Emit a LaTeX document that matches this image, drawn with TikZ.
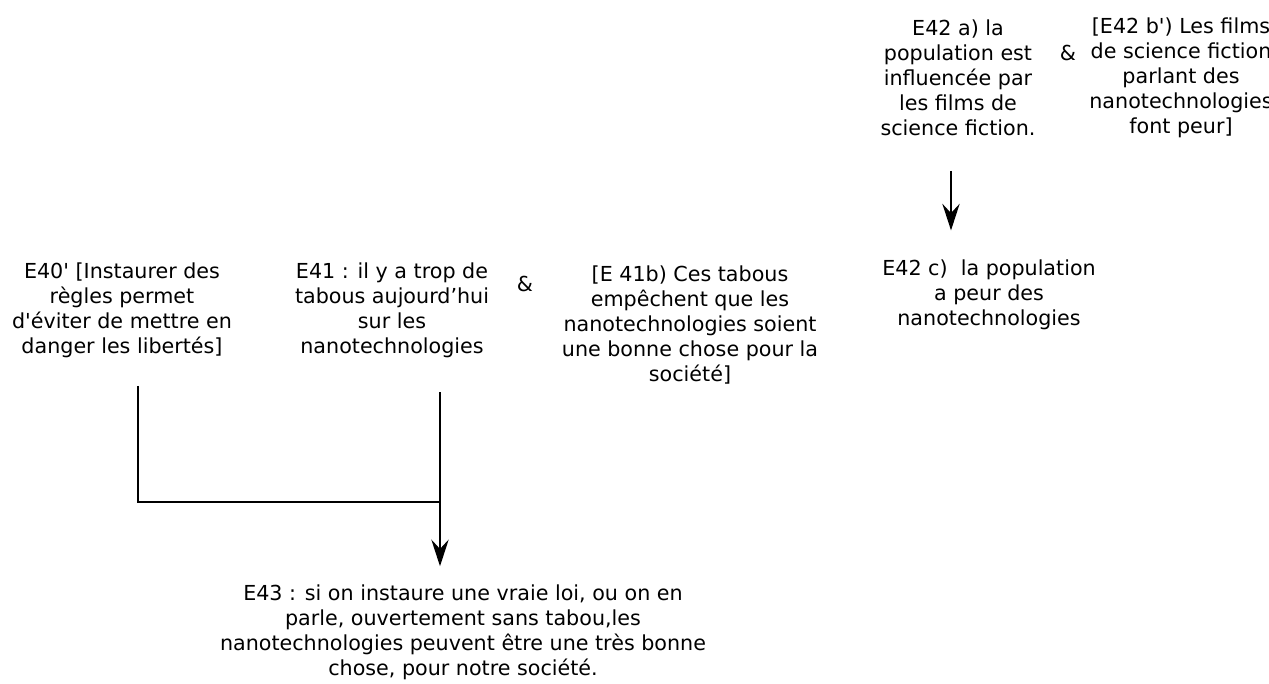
\documentclass[tikz,border=0pt]{standalone}
\usepackage{fontspec}
\setmainfont{DejaVu Sans}[Ligatures=TeXOff]
\usetikzlibrary{arrows.meta,positioning}

\begin{document}
\begin{tikzpicture}[x=0.75pt,y=-0.75pt,
  stmt/.style={align=center,inner sep=0pt,font=\fontsize{15.5}{18.75}\selectfont},
  amp/.style={inner sep=0pt,font=\fontsize{15.5}{18.75}\selectfont},
  link/.style={line width=1pt},
  arr/.style={link,-{Stealth[length=20pt,width=13pt,inset=7pt]}}]
  \useasboundingbox (0,0) rectangle (1269,684);
  \node[stmt] (e42a) at (958,78) {E42 a) la\\population est\\influencée par\\les films de\\science fiction.};
  \node[amp] (and42) at (1068,53) {\&};
  \node[stmt] (e42b) at (1181,78) {[E42 b') Les films\\de science fiction\\parlant des\\nanotechnologies\\font peur]};
  \node[stmt] (e42c) at (989,295) {E42 c)\ \ la population\\a peur des\\nanotechnologies};
  \node[stmt] (e40) at (122,310) {E40' [Instaurer des\\règles permet\\d'éviter de mettre en\\danger les libertés]};
  \node[stmt] (e41) at (392,310) {E41 : il y a trop de\\tabous aujourd’hui\\sur les\\nanotechnologies};
  \node[amp] (and41) at (525,284) {\&};
  \node[stmt] (e41b) at (690,325) {[E 41b) Ces tabous\\empêchent que les\\nanotechnologies soient\\une bonne chose pour la\\société]};
  \node[stmt] (e43) at (463,632) {E43 : si on instaure une vraie loi, ou on en\\parle, ouvertement sans tabou,les\\nanotechnologies peuvent être une très bonne\\chose, pour notre société.};
  \coordinate (join) at (440,502);
  \coordinate (a42) at ([xshift=-5.25pt]e42a.south);
  \draw[link] ([xshift=12pt,yshift=-21pt]e40.south) |- (join);
  \draw[link] ([xshift=36pt,yshift=-26pt]e41.south) -- (join);
  \draw[arr,shorten >=13.5pt] (join) -- (join |- e43.north);
  \draw[arr,shorten <=26pt,shorten >=22pt] (a42) -- (a42 |- e42c.north);
\end{tikzpicture}
\end{document}
